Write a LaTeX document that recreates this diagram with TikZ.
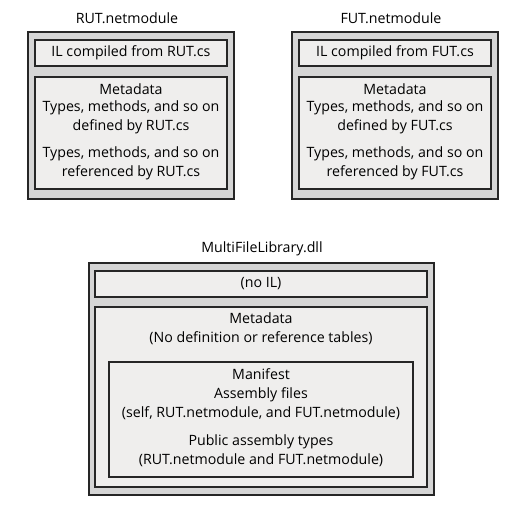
\documentclass[tikz,border=0pt]{standalone}
\usepackage{fontspec}
\setmainfont{Open Sans}
\usetikzlibrary{positioning}

\definecolor{outerfill}{HTML}{D5D5D5}
\definecolor{innerfill}{HTML}{EFEEED}
\definecolor{edge}{HTML}{262626}

\tikzset{
  outerbox/.style={draw=edge, line width=2pt, fill=outerfill},
  innerbox/.style={draw=edge, line width=1.6pt, fill=innerfill},
  lbl/.style={font=\fontsize{14.2}{19}\selectfont, align=center, inner sep=0pt}
}

\begin{document}
\begin{tikzpicture}[x=1pt,y=-1pt]
\useasboundingbox (0,0) rectangle (528,507);

% RUT.netmodule
\node[lbl] (rutTitle) at (127,18) {RUT.netmodule};
\draw[outerbox] (28,32) rectangle (234,199);
\draw[innerbox] (35,40) rectangle (227,66);
\node[lbl] (rutIL) at (131,53) {IL compiled from RUT.cs};
\draw[innerbox] (35,77) rectangle (227,189);
\node[lbl] (rutMeta) at (131,89) {Metadata};
\node[lbl] (rutDef) at (131,117.5) {Types, methods, and so on\\defined by RUT.cs};
\node[lbl] (rutRef) at (131,163.5) {Types, methods, and so on\\referenced by RUT.cs};

% FUT.netmodule
\node[lbl] (futTitle) at (391,18) {FUT.netmodule};
\draw[outerbox] (292,32) rectangle (498,199);
\draw[innerbox] (299,40) rectangle (491,66);
\node[lbl] (futIL) at (395,53) {IL compiled from FUT.cs};
\draw[innerbox] (299,77) rectangle (491,189);
\node[lbl] (futMeta) at (395,89) {Metadata};
\node[lbl] (futDef) at (395,117.5) {Types, methods, and so on\\defined by FUT.cs};
\node[lbl] (futRef) at (395,163.5) {Types, methods, and so on\\referenced by FUT.cs};

% MultiFileLibrary.dll
\node[lbl] (dllTitle) at (262,249) {MultiFileLibrary.dll};
\draw[outerbox] (89,263) rectangle (434,495);
\draw[innerbox] (95,271) rectangle (427,297);
\node[lbl] (dllIL) at (261,284) {(no IL)};
\draw[innerbox] (95,307) rectangle (427,487);
\node[lbl] (dllMeta) at (261,329) {Metadata\\(No definition or reference tables)};
\draw[innerbox] (109,362) rectangle (413,477);
\node[lbl] (manFiles) at (261,394.5) {Manifest\\Assembly files\\(self, RUT.netmodule, and FUT.netmodule)};
\node[lbl] (manTypes) at (261,450.5) {Public assembly types\\(RUT.netmodule and FUT.netmodule)};

\end{tikzpicture}
\end{document}
